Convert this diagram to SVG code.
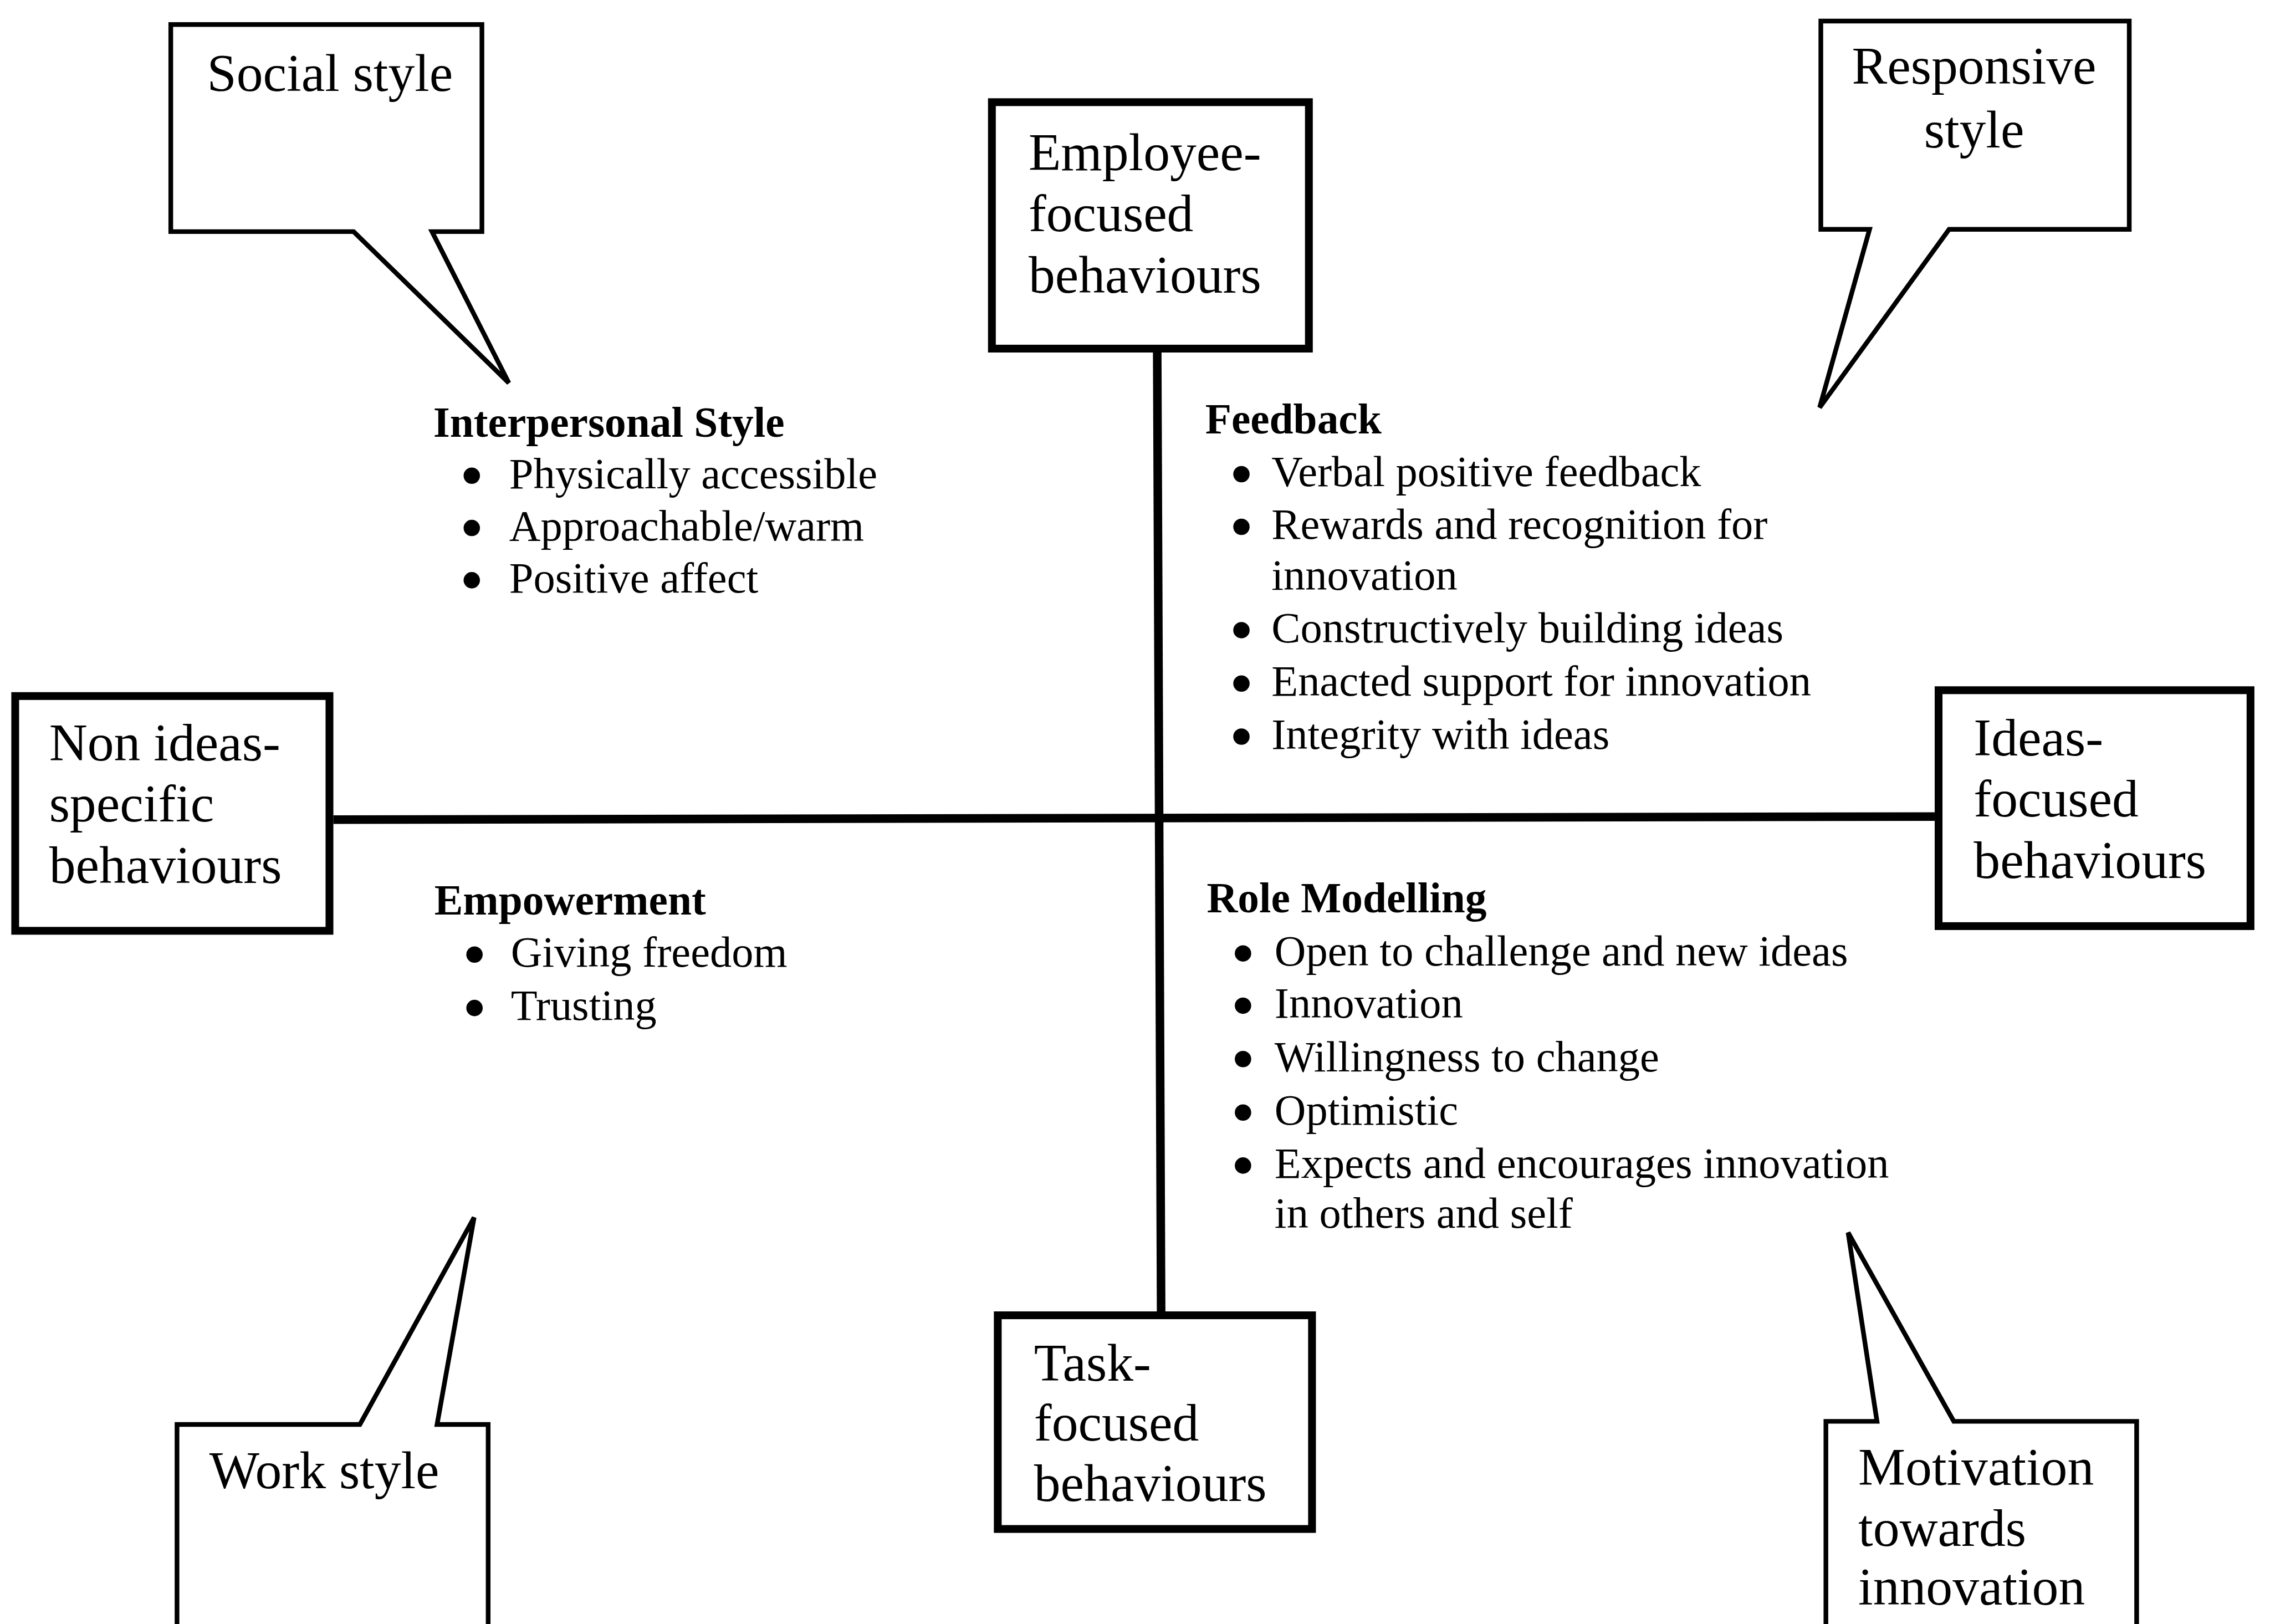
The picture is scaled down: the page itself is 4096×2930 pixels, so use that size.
<svg xmlns="http://www.w3.org/2000/svg" width="4096" height="2930" viewBox="0 0 4096 2930">
<style>
.box{fill:#fff;stroke:#000;stroke-width:20;stroke-linejoin:miter}
.call{fill:#fff;stroke:#000;stroke-width:12;stroke-linejoin:miter}
.axis{stroke:#000;stroke-width:22;fill:none}
.lbl{font-family:"Liberation Serif","Times New Roman",serif;font-size:136px;fill:#000}
.hd{font-family:"Liberation Serif","Times New Roman",serif;font-size:110px;font-weight:bold;fill:#000}
.it{font-family:"Liberation Serif","Times New Roman",serif;font-size:111.5px;fill:#000}
.dot{fill:#000}
</style>
<rect x="0" y="0" width="4096" height="2930" fill="#fff"/>
<g transform="scale(0.703538)">
  <g id="connectors">
    <line class="axis" x1="2968" y1="904" x2="2978" y2="3363"/>
    <line class="axis" x1="855" y1="2102" x2="4962" y2="2094"/>
  </g>

  <g id="social-style">
    <path class="call" d="M907 594 L438 594 L438 63 L1236 63 L1236 594 L1108 594 L1305 982 Z"/>
    <text class="lbl" x="531" y="233">Social style</text>
  </g>

  <g id="responsive-style">
    <path class="call" d="M4795 588 L4670 588 L4670 54 L5461 54 L5461 588 L4999 588 L4667 1045 Z"/>
    <text class="lbl" x="5063" y="215" text-anchor="middle">Responsive</text>
    <text class="lbl" x="5063" y="378" text-anchor="middle">style</text>
  </g>

  <g id="work-style">
    <path class="call" d="M923 3653 L454 3653 L454 4300 L1252 4300 L1252 3653 L1121 3653 L1216 3122 Z"/>
    <text class="lbl" x="537" y="3817">Work style</text>
  </g>

  <g id="motivation">
    <path class="call" d="M4814 3645 L4683 3645 L4683 4300 L5480 4300 L5480 3645 L5011 3645 L4740 3161 Z"/>
    <text class="lbl" x="4766" y="3808">Motivation</text>
    <text class="lbl" x="4766" y="3964">towards</text>
    <text class="lbl" x="4766" y="4115">innovation</text>
  </g>

  <g id="employee-focused">
    <rect class="box" x="2544" y="262" width="813" height="632"/>
    <text class="lbl" x="2638" y="436">Employee-</text>
    <text class="lbl" x="2638" y="593">focused</text>
    <text class="lbl" x="2638" y="750">behaviours</text>
  </g>

  <g id="task-focused">
    <rect class="box" x="2559" y="3373" width="806" height="548"/>
    <text class="lbl" x="2652" y="3540">Task-</text>
    <text class="lbl" x="2652" y="3694">focused</text>
    <text class="lbl" x="2652" y="3849">behaviours</text>
  </g>

  <g id="non-ideas-specific">
    <rect class="box" x="39" y="1785" width="806" height="602"/>
    <text class="lbl" x="126" y="1950">Non ideas-</text>
    <text class="lbl" x="126" y="2106">specific</text>
    <text class="lbl" x="126" y="2264">behaviours</text>
  </g>

  <g id="ideas-focused">
    <rect class="box" x="4972" y="1770" width="800" height="605"/>
    <text class="lbl" x="5062" y="1938">Ideas-</text>
    <text class="lbl" x="5062" y="2093">focused</text>
    <text class="lbl" x="5062" y="2252">behaviours</text>
  </g>

  <g id="interpersonal-style">
    <text class="hd" x="1111" y="1120">Interpersonal Style</text>
    <circle class="dot" cx="1210" cy="1220" r="21"/>
    <text class="it" x="1306" y="1252">Physically accessible</text>
    <circle class="dot" cx="1210" cy="1354" r="21"/>
    <text class="it" x="1306" y="1386">Approachable/warm</text>
    <circle class="dot" cx="1210" cy="1488" r="21"/>
    <text class="it" x="1306" y="1520">Positive affect</text>
  </g>

  <g id="feedback">
    <text class="hd" x="3091" y="1112">Feedback</text>
    <circle class="dot" cx="3184" cy="1216" r="21"/>
    <text class="it" x="3261" y="1247">Verbal positive feedback</text>
    <circle class="dot" cx="3184" cy="1351" r="21"/>
    <text class="it" x="3261" y="1382">Rewards and recognition for</text>
    <text class="it" x="3261" y="1512">innovation</text>
    <circle class="dot" cx="3184" cy="1616" r="21"/>
    <text class="it" x="3261" y="1647">Constructively building ideas</text>
    <circle class="dot" cx="3184" cy="1753" r="21"/>
    <text class="it" x="3261" y="1784">Enacted support for innovation</text>
    <circle class="dot" cx="3184" cy="1889" r="21"/>
    <text class="it" x="3261" y="1920">Integrity with ideas</text>
  </g>

  <g id="empowerment">
    <text class="hd" x="1114" y="2345">Empowerment</text>
    <circle class="dot" cx="1217" cy="2448" r="21"/>
    <text class="it" x="1310" y="2479">Giving freedom</text>
    <circle class="dot" cx="1217" cy="2585" r="21"/>
    <text class="it" x="1310" y="2616">Trusting</text>
  </g>

  <g id="role-modelling">
    <text class="hd" x="3095" y="2340">Role Modelling</text>
    <circle class="dot" cx="3188" cy="2445" r="21"/>
    <text class="it" x="3269" y="2476">Open to challenge and new ideas</text>
    <circle class="dot" cx="3188" cy="2579" r="21"/>
    <text class="it" x="3269" y="2610">Innovation</text>
    <circle class="dot" cx="3188" cy="2716" r="21"/>
    <text class="it" x="3269" y="2747">Willingness to change</text>
    <circle class="dot" cx="3188" cy="2853" r="21"/>
    <text class="it" x="3269" y="2884">Optimistic</text>
    <circle class="dot" cx="3188" cy="2989" r="21"/>
    <text class="it" x="3269" y="3020">Expects and encourages innovation</text>
    <text class="it" x="3269" y="3148">in others and self</text>
  </g>
</g>
</svg>
